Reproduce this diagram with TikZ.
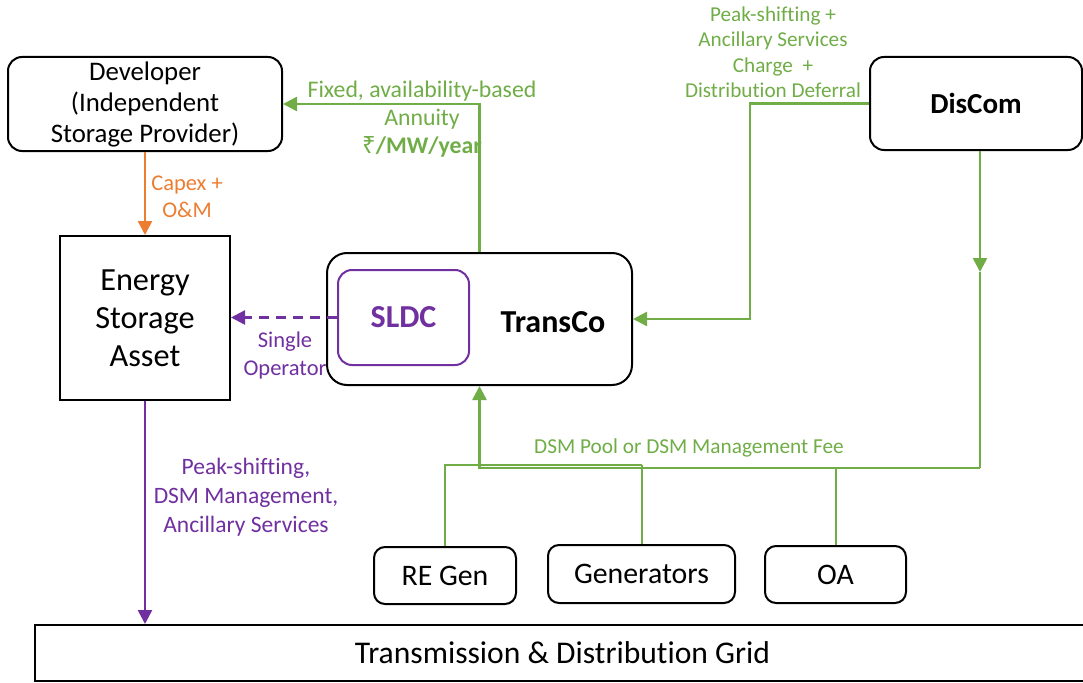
\documentclass[tikz,border=0pt]{standalone}
\usepackage{fontspec}
\setmainfont[Ligatures=NoCommon]{Carlito}
\newfontfamily\rupeefont{Noto Sans}
\usetikzlibrary{arrows.meta}
\definecolor{flowgreen}{HTML}{70AD47}
\definecolor{floworange}{HTML}{ED7D31}
\definecolor{flowpurple}{HTML}{7030A0}
\tikzset{
  box/.style={draw=black, line width=2pt, inner sep=0pt, align=center, fill=white},
  rbox/.style={box, rounded corners=14pt},
  tipend/.style={-{Triangle[length=14pt,width=14pt]}},
  gline/.style={draw=flowgreen, line width=2.5pt},
  oline/.style={draw=floworange, line width=2.5pt},
  pline/.style={draw=flowpurple, line width=2.5pt},
  lbl/.style={inner sep=0pt, align=center},
}
\begin{document}
\begin{tikzpicture}[x=1pt,y=-1pt]
\useasboundingbox (0,0) rectangle (1083,682);

% parties
\node[rbox, minimum width=274pt, minimum height=94pt, font=\fontsize{26.8}{31}\selectfont]
  (dev) at (145,104) {Developer\\(Independent\\Storage Provider)};
\node[box, minimum width=170pt, minimum height=164pt, font=\fontsize{32.3}{38}\selectfont]
  (esa) at (145,318) {Energy\\Storage\\Asset};
\node[rbox, rounded corners=20pt, minimum width=305pt, minimum height=132pt]
  (transco) at (479.5,319) {};
\node[rbox, draw=flowpurple, minimum width=131pt, minimum height=95pt,
  font=\fontsize{32}{36}\selectfont\bfseries, text=flowpurple]
  (sldc) at (403.5,317.5) {SLDC};
\node[lbl, font=\fontsize{32}{36}\selectfont\bfseries] (transconame) at (553,322) {TransCo};
\node[rbox, minimum width=212pt, minimum height=93pt, font=\fontsize{29}{34}\selectfont\bfseries]
  (discom) at (976,103.5) {DisCom};
\node[rbox, rounded corners=11pt, minimum width=142pt, minimum height=57pt, font=\fontsize{29.8}{34}\selectfont]
  (regen) at (445,575.5) {RE Gen};
\node[rbox, rounded corners=11pt, minimum width=187pt, minimum height=58pt, font=\fontsize{29.8}{34}\selectfont]
  (gen) at (641.5,574) {Generators};
\node[rbox, rounded corners=11pt, minimum width=141pt, minimum height=57pt, font=\fontsize{29.8}{34}\selectfont]
  (oa) at (835.5,574.5) {OA};
\node[box, minimum width=1055pt, minimum height=56pt, font=\fontsize{31.6}{36}\selectfont]
  (grid) at (562.5,653) {Transmission \& Distribution Grid};

% junction points of the settlement bus
\coordinate (dj) at (980,468);
\coordinate (bus) at (0,465);
\coordinate (dmid) at (980,272);

% developer -> storage asset
\draw[oline, tipend] (dev.south) -- (esa.north);
\node[lbl, text=floworange, font=\fontsize{22.5}{27}\selectfont] (capex) at (187,197) {Capex +\\O\&M};

% SLDC operates the storage asset
\draw[pline, dashed, dash pattern=on 10pt off 7pt, tipend] (sldc.west) -- (esa.east |- sldc.west);
\node[lbl, text=flowpurple, font=\fontsize{22.5}{28}\selectfont] (oper) at (285,355) {Single\\Operator};

% storage asset -> grid
\draw[pline, tipend] (esa.south) -- (grid.north -| esa.south);
\node[lbl, text=flowpurple, font=\fontsize{23.5}{29}\selectfont] (svc) at (246,497)
  {Peak-shifting,\\DSM Management,\\Ancillary Services};

% TransCo pays the developer
\draw[gline, tipend] (transco.north) |- (dev.east);
\node[lbl, text=flowgreen, font=\fontsize{23.8}{28}\selectfont] (annuity) at (422,119)
  {Fixed, availability-based\\Annuity\\\textbf{{\rupeefont ₹}/MW/year}};

% DisCom pays TransCo
\draw[gline, tipend] (discom.west) -- ++(-119,0) |- (transco.east);
\node[lbl, text=flowgreen, font=\fontsize{21.2}{25.5}\selectfont] (charge) at (773,52)
  {Peak-shifting +\\Ancillary Services\\Charge~ +\\Distribution Deferral};

% DSM settlement to TransCo
\draw[gline, tipend] (discom.south -| dj) -- (dmid);
\draw[gline] (dmid) -- (dj);
\draw[gline, tipend] (dj) -| (transco.south);
\draw[gline, line width=2pt] (regen.north) |- (gen.north |- bus);
\draw[gline, line width=2pt] (gen.north) -- (gen.north |- bus);
\draw[gline, line width=2pt] (oa.north) -- (oa.north |- dj);
\node[lbl, text=flowgreen, font=\fontsize{21.3}{25}\selectfont] (dsm) at (689,448)
  {DSM Pool or DSM Management Fee};
\end{tikzpicture}
\end{document}
